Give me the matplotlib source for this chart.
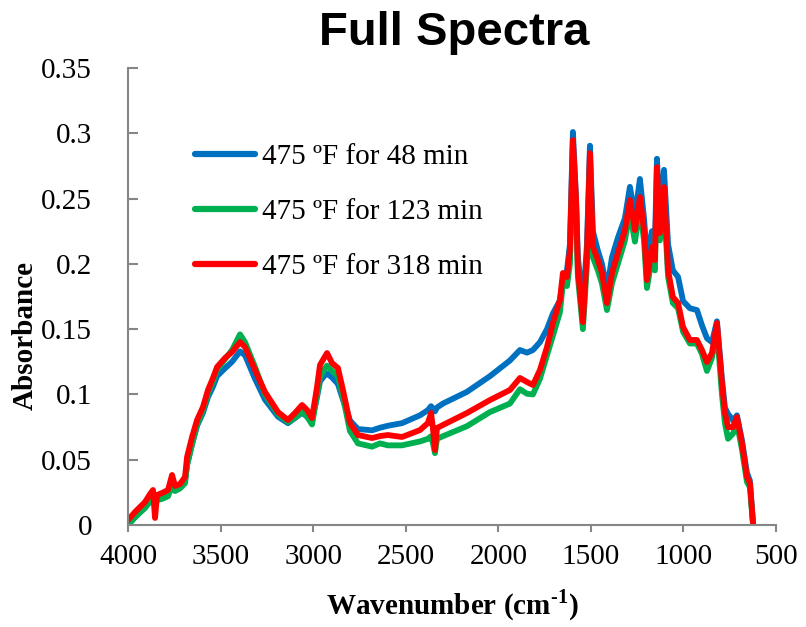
import matplotlib
matplotlib.use("Agg")
import matplotlib.pyplot as plt

wavenumber = [4000, 3962, 3908, 3881, 3865, 3854, 3843, 3816, 3784, 3762,
              3746, 3719, 3692, 3681, 3654, 3627, 3595, 3568, 3541, 3519,
              3476, 3438, 3395, 3368, 3314, 3260, 3190, 3136, 3098, 3060,
              3033, 3006, 2979, 2963, 2941, 2925, 2898, 2866, 2839, 2801,
              2758, 2682, 2639, 2596, 2520, 2423, 2380, 2363, 2352, 2342,
              2331, 2299, 2169, 2045, 1937, 1883, 1845, 1813, 1775, 1737,
              1705, 1667, 1651, 1629, 1613, 1597, 1580, 1570, 1543, 1521,
              1505, 1489, 1462, 1440, 1413, 1386, 1354, 1316, 1289, 1262,
              1235, 1213, 1197, 1170, 1154, 1143, 1127, 1105, 1083, 1057,
              1029, 1002, 965, 927, 900, 873, 846, 819, 792, 776,
              759, 732, 711, 684, 657, 641, 624]

abs_48 = [0.0000, 0.0060, 0.0140, 0.0180, 0.0210, 0.0200, 0.0200, 0.0215, 0.0240, 0.0290,
          0.0280, 0.0300, 0.0340, 0.0460, 0.0620, 0.0760, 0.0860, 0.0980, 0.1060, 0.1140,
          0.1200, 0.1250, 0.1330, 0.1300, 0.1120, 0.0960, 0.0830, 0.0780, 0.0820, 0.0860,
          0.0830, 0.0800, 0.0980, 0.1100, 0.1140, 0.1160, 0.1130, 0.1080, 0.0960, 0.0800,
          0.0735, 0.0725, 0.0745, 0.0760, 0.0780, 0.0840, 0.0880, 0.0910, 0.0890, 0.0870,
          0.0900, 0.0930, 0.1020, 0.1140, 0.1260, 0.1340, 0.1320, 0.1340, 0.1400, 0.1500,
          0.1620, 0.1720, 0.1880, 0.1950, 0.2150, 0.3010, 0.2500, 0.2050, 0.1680, 0.2150,
          0.2905, 0.2250, 0.2100, 0.2000, 0.1800, 0.2050, 0.2200, 0.2350, 0.2590, 0.2360,
          0.2650, 0.2350, 0.2050, 0.2250, 0.2150, 0.2805, 0.2320, 0.2720, 0.2150, 0.1950,
          0.1900, 0.1715, 0.1660, 0.1646, 0.1530, 0.1430, 0.1400, 0.1560, 0.1120, 0.0900,
          0.0850, 0.0800, 0.0840, 0.0650, 0.0400, 0.0340, 0.0010]

abs_123 = [0.0000, 0.0060, 0.0130, 0.0180, 0.0210, 0.0150, 0.0190, 0.0200, 0.0220, 0.0300,
           0.0260, 0.0280, 0.0320, 0.0460, 0.0620, 0.0770, 0.0880, 0.1010, 0.1100, 0.1190,
           0.1270, 0.1340, 0.1460, 0.1400, 0.1210, 0.1000, 0.0850, 0.0790, 0.0820, 0.0870,
           0.0830, 0.0770, 0.1000, 0.1130, 0.1190, 0.1220, 0.1180, 0.1140, 0.0980, 0.0720,
           0.0625, 0.0600, 0.0625, 0.0610, 0.0610, 0.0640, 0.0660, 0.0680, 0.0620, 0.0550,
           0.0660, 0.0680, 0.0757, 0.0865, 0.0930, 0.1040, 0.1005, 0.1000, 0.1120, 0.1300,
           0.1450, 0.1630, 0.1850, 0.1830, 0.2000, 0.2880, 0.2400, 0.1900, 0.1500, 0.2000,
           0.2770, 0.2050, 0.1950, 0.1850, 0.1646, 0.1850, 0.2000, 0.2180, 0.2400, 0.2170,
           0.2430, 0.2180, 0.1815, 0.2050, 0.1950, 0.2620, 0.2180, 0.2480, 0.1900, 0.1700,
           0.1660, 0.1480, 0.1390, 0.1390, 0.1310, 0.1180, 0.1280, 0.1500, 0.1000, 0.0780,
           0.0660, 0.0700, 0.0780, 0.0580, 0.0330, 0.0290, 0.0000]

abs_318 = [0.0038, 0.0100, 0.0176, 0.0237, 0.0268, 0.0054, 0.0230, 0.0245, 0.0268, 0.0383,
           0.0299, 0.0314, 0.0368, 0.0521, 0.0674, 0.0804, 0.0904, 0.1034, 0.1126, 0.1210,
           0.1279, 0.1325, 0.1401, 0.1363, 0.1187, 0.1018, 0.0865, 0.0804, 0.0858, 0.0919,
           0.0881, 0.0819, 0.1057, 0.1225, 0.1279, 0.1317, 0.1240, 0.1202, 0.1034, 0.0781,
           0.0689, 0.0666, 0.0681, 0.0689, 0.0674, 0.0727, 0.0781, 0.0858, 0.0727, 0.0574,
           0.0743, 0.0766, 0.0858, 0.0957, 0.1034, 0.1126, 0.1095, 0.1072, 0.1187, 0.1363,
           0.1547, 0.1723, 0.1930, 0.1899, 0.2106, 0.2948, 0.2489, 0.1953, 0.1554, 0.2083,
           0.2848, 0.2129, 0.2029, 0.1930, 0.1700, 0.1930, 0.2083, 0.2259, 0.2489, 0.2259,
           0.2511, 0.2259, 0.1876, 0.2129, 0.2029, 0.2741, 0.2236, 0.2588, 0.1953, 0.1746,
           0.1700, 0.1516, 0.1417, 0.1417, 0.1340, 0.1248, 0.1317, 0.1547, 0.1087, 0.0858,
           0.0750, 0.0750, 0.0827, 0.0628, 0.0368, 0.0322, 0.0015]

series_labels = ["475 ºF for 48 min", "475 ºF for 123 min", "475 ºF for 318 min"]
series_colors = ["#0070C0", "#00B050", "#FF0000"]
x_ticks = [4000, 3500, 3000, 2500, 2000, 1500, 1000, 500]
y_ticks = [0, 0.05, 0.1, 0.15, 0.2, 0.25, 0.3, 0.35]
y_tick_labels = ["0", "0.05", "0.1", "0.15", "0.2", "0.25", "0.3", "0.35"]

plt.rcParams["mathtext.fontset"] = "custom"
plt.rcParams["mathtext.rm"] = "Liberation Serif"
plt.rcParams["mathtext.bf"] = "Liberation Serif:bold"

W, H = 806, 627
fig = plt.figure(figsize=(W / 100, H / 100), dpi=100)
ax = fig.add_axes([128 / W, 1 - 525 / H, (776 - 128) / W, (525 - 68) / H])

for ys, lab, col in zip([abs_48, abs_123, abs_318], series_labels, series_colors):
    ax.plot(wavenumber, ys, color=col, lw=4.2, label=lab,
            solid_joinstyle="round", solid_capstyle="round")

ax.set_xlim(4000, 500)
ax.set_ylim(0, 0.35)
ax.set_xticks(x_ticks)
ax.set_xticklabels([str(t) for t in x_ticks])
ax.set_yticks(y_ticks)
ax.set_yticklabels(y_tick_labels)

serif = "Liberation Serif"
for lbl in ax.get_xticklabels() + ax.get_yticklabels():
    lbl.set_fontfamily(serif)
    lbl.set_fontsize(21)

gray = "#868686"
for s in ["top", "right"]:
    ax.spines[s].set_visible(False)
for s in ["left", "bottom"]:
    ax.spines[s].set_color(gray)
    ax.spines[s].set_linewidth(1.5)
ax.tick_params(axis="y", direction="in", length=7, width=1.5, color=gray, pad=26)
ax.tick_params(axis="x", direction="out", length=5, width=1.5, color=gray, pad=9)

fig.text(454 / W, 1 - 33 / H, "Full Spectra", ha="center", va="center",
         fontfamily="Liberation Sans", fontweight="bold", fontsize=34)
fig.text(452 / W, 1 - 605 / H, "Wavenumber (cm$^{\\mathbf{\u20101}}$)", ha="center", va="center",
         fontfamily=serif, fontweight="bold", fontsize=21)
fig.text(25 / W, 1 - 336 / H, "Absorbance", ha="center", va="center", rotation=90,
         fontfamily=serif, fontweight="bold", fontsize=21)

leg = ax.legend(loc="upper left", bbox_to_anchor=((195 - 128) / 648, (525 - 144) / 457),
                frameon=False, borderpad=0, borderaxespad=0, handlelength=2.05,
                handletextpad=0.25, labelspacing=0.97,
                prop={"family": serif, "size": 21})
for h in leg.get_lines():
    h.set_linewidth(4.5)

fig.savefig("out.png", dpi=100)
